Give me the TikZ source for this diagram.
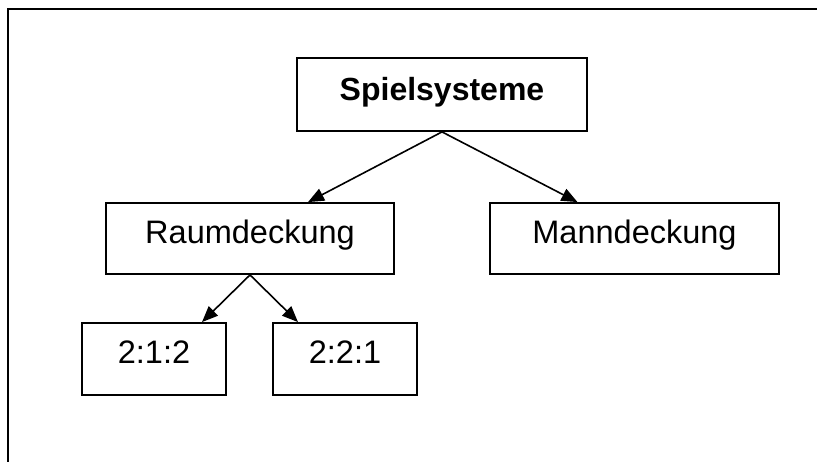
\documentclass[tikz,border=0pt]{standalone}
\usepackage{fontspec}
\setmainfont{Liberation Sans}
\usetikzlibrary{arrows.meta}
\begin{document}
\begin{tikzpicture}[x=1pt,y=-1pt,
  box/.style={draw,line width=1.8pt,rectangle,inner sep=0pt},
  lbl/.style={anchor=base,inner sep=0pt,font=\fontsize{32.5}{38}\selectfont},
  conn/.style={line width=1.6pt,-{Triangle[length=16pt,width=13pt]}}]
\useasboundingbox (0,0) rectangle (817,461);
% frame
\coordinate (fbl) at (8,470);
\coordinate (ftl) at (8,9);
\coordinate (ftr) at (830,9);
\draw[line width=2pt] (fbl) -- (ftl) -- (ftr);
% boxes
\node[box,minimum width=290pt,minimum height=73pt] (sp) at (442,94.5) {};
\node[box,minimum width=288pt,minimum height=71pt] (rd) at (250,238.5) {};
\node[box,minimum width=289pt,minimum height=71pt] (md) at (634.5,238.5) {};
\node[box,minimum width=144pt,minimum height=72pt] (a) at (154,359) {};
\node[box,minimum width=144pt,minimum height=72pt] (b) at (345,359) {};
% labels
\node[lbl,font=\fontsize{32}{38}\selectfont\bfseries] (tsp) at (442,100) {Spielsysteme};
\node[lbl] (trd) at (250,243) {Raumdeckung};
\node[lbl] (tmd) at (634.5,243) {Manndeckung};
\node[lbl] (ta) at (154,363) {2:1:2};
\node[lbl] (tb) at (345,363) {2:2:1};
% connectors
\draw[conn] (sp.south) -- ([xshift=58pt]rd.north);
\draw[conn] (sp.south) -- ([xshift=-57pt]md.north);
\draw[conn] (rd.south) -- ([xshift=48pt]a.north);
\draw[conn] (rd.south) -- ([xshift=-47pt]b.north);
\end{tikzpicture}
\end{document}
